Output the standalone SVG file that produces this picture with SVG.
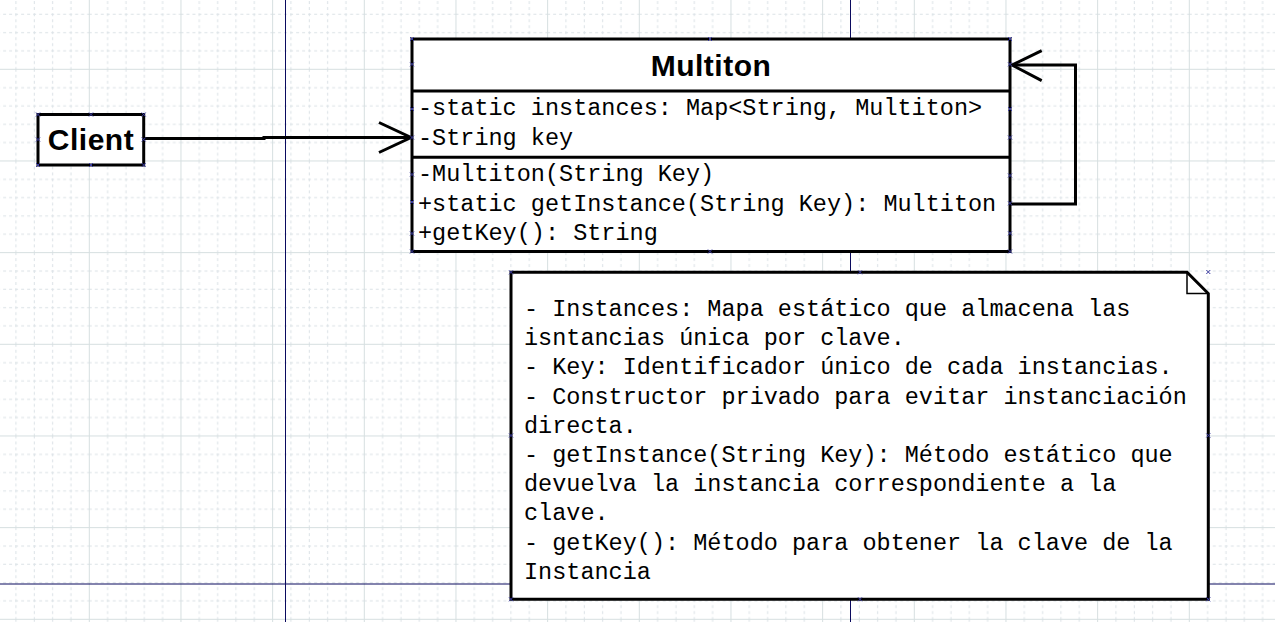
<svg xmlns="http://www.w3.org/2000/svg" width="1275" height="622" viewBox="0 0 1275 622">
  <defs>
    <style>
      .box { fill: #ffffff; stroke: #000000; stroke-width: 3; }
      .div { stroke: #000000; stroke-width: 3; }
      .title { font-family: "Liberation Sans", Arial, sans-serif; font-weight: bold; font-size: 30px; letter-spacing: 0.5px; fill: #000000; text-anchor: middle; }
      .mono { font-family: "Liberation Mono", "Courier New", monospace; font-size: 23.5px; fill: #000000; }
      .conn { fill: none; stroke: #000000; stroke-width: 3; stroke-linejoin: miter; }
      .axis { stroke: #0a0a5e; stroke-width: 1; }
      .hm { fill: none; stroke: #3a3aa0; stroke-width: 1; }
      .fold { fill: none; stroke: #000000; stroke-width: 1.5; }
    </style>
    <pattern id="grid" patternUnits="userSpaceOnUse" x="88.8" y="68.8" width="91.667" height="91.667">
      <g stroke="#dbe2e6" stroke-width="1" stroke-dasharray="3 3">
        <line x1="18.83" y1="0" x2="18.83" y2="91.667"/>
        <line x1="37.17" y1="0" x2="37.17" y2="91.667"/>
        <line x1="55.5" y1="0" x2="55.5" y2="91.667"/>
        <line x1="73.83" y1="0" x2="73.83" y2="91.667"/>
        <line x1="0" y1="18.83" x2="91.667" y2="18.83"/>
        <line x1="0" y1="37.17" x2="91.667" y2="37.17"/>
        <line x1="0" y1="55.5" x2="91.667" y2="55.5"/>
        <line x1="0" y1="73.83" x2="91.667" y2="73.83"/>
      </g>
      <g stroke="#d6dfe0" stroke-width="1">
        <line x1="0.5" y1="0" x2="0.5" y2="91.667"/>
        <line x1="0" y1="0.5" x2="91.667" y2="0.5"/>
      </g>
    </pattern>
    <path id="hx" d="M-2,-2 L2,2 M-2,2 L2,-2"/>
  </defs>

  <rect x="0" y="0" width="1275" height="622" fill="#ffffff"/>
  <rect x="0" y="0" width="1275" height="622" fill="url(#grid)"/>

  <g id="page-lines">
    <line class="axis" x1="285.5" y1="0" x2="285.5" y2="622"/>
    <line class="axis" x1="850.5" y1="0" x2="850.5" y2="622"/>
    <line class="axis" x1="0" y1="584" x2="1275" y2="584"/>
  </g>

  <g id="connectors">
    <path class="conn" d="M145,138.5 H264 V137.5 H410"/>
    <polyline class="conn" points="379,122.5 411,137.5 379,152.5"/>
    <path class="conn" d="M1011,204 H1075.5 V65 H1013"/>
    <polyline class="conn" points="1041.7,50.7 1012,65 1041.7,80.7"/>
  </g>

  <g id="client">
    <rect class="box" x="38" y="114.5" width="105.7" height="50.5"/>
    <text class="title" x="91" y="149.5">Client</text>
    <g class="hm">
      <use href="#hx" x="38" y="114.5"/><use href="#hx" x="91" y="114.5"/><use href="#hx" x="143.7" y="114.5"/>
      <use href="#hx" x="38" y="139.5"/><use href="#hx" x="143.7" y="139.5"/>
      <use href="#hx" x="38" y="165"/><use href="#hx" x="91" y="165"/><use href="#hx" x="143.7" y="165"/>
    </g>
  </g>

  <g id="multiton">
    <rect class="box" x="412" y="39" width="598" height="212.5"/>
    <line class="div" x1="412" y1="91" x2="1010" y2="91"/>
    <line class="div" x1="412" y1="157.3" x2="1010" y2="157.3"/>
    <text class="title" x="711" y="76">Multiton</text>
    <text class="mono" x="418" y="115" xml:space="preserve">-static instances: Map&lt;String, Multiton&gt;</text>
    <text class="mono" x="418" y="144.8" xml:space="preserve">-String key</text>
    <text class="mono" x="418" y="181.3" xml:space="preserve">-Multiton(String Key)</text>
    <text class="mono" x="418" y="210.6" xml:space="preserve">+static getInstance(String Key): Multiton</text>
    <text class="mono" x="418" y="239.8" xml:space="preserve">+getKey(): String</text>
    <g class="hm">
      <use href="#hx" x="412" y="39"/><use href="#hx" x="710" y="39"/><use href="#hx" x="1010" y="39"/>
      <use href="#hx" x="412" y="64.3"/><use href="#hx" x="1010" y="64.3"/>
      <use href="#hx" x="412" y="109"/><use href="#hx" x="1010" y="109"/>
      <use href="#hx" x="412" y="137.5"/><use href="#hx" x="1010" y="137.5"/>
      <use href="#hx" x="412" y="174.5"/><use href="#hx" x="1010" y="175.5"/>
      <use href="#hx" x="412" y="202"/><use href="#hx" x="1010" y="203.3"/>
      <use href="#hx" x="412" y="233.5"/><use href="#hx" x="1010" y="233.3"/>
      <use href="#hx" x="412" y="251.5"/><use href="#hx" x="710" y="251.5"/><use href="#hx" x="1010" y="251.5"/>
    </g>
  </g>

  <g id="note">
    <polygon class="box" points="511,272.3 1187,272.3 1208.3,293.5 1208.3,599.3 511,599.3"/>
    <polyline class="fold" points="1187,272.3 1187,293.5 1208.3,293.5"/>
    <text class="mono" xml:space="preserve">
      <tspan x="524" y="316">- Instances: Mapa estático que almacena las</tspan>
      <tspan x="524" y="345.2">isntancias única por clave.</tspan>
      <tspan x="524" y="374.4">- Key: Identificador único de cada instancias.</tspan>
      <tspan x="524" y="403.6">- Constructor privado para evitar instanciación</tspan>
      <tspan x="524" y="432.8">directa.</tspan>
      <tspan x="524" y="462">- getInstance(String Key): Método estático que</tspan>
      <tspan x="524" y="491.2">devuelva la instancia correspondiente a la</tspan>
      <tspan x="524" y="520.4">clave.</tspan>
      <tspan x="524" y="549.6">- getKey(): Método para obtener la clave de la</tspan>
      <tspan x="524" y="578.8">Instancia</tspan>
    </text>
    <g class="hm">
      <use href="#hx" x="511" y="272.3"/><use href="#hx" x="860" y="272.3"/><use href="#hx" x="1208.3" y="272"/>
      <use href="#hx" x="511" y="435.5"/><use href="#hx" x="1208.3" y="435.5"/>
      <use href="#hx" x="511" y="599.3"/><use href="#hx" x="860" y="599.3"/><use href="#hx" x="1208.3" y="599.3"/>
    </g>
  </g>
</svg>
